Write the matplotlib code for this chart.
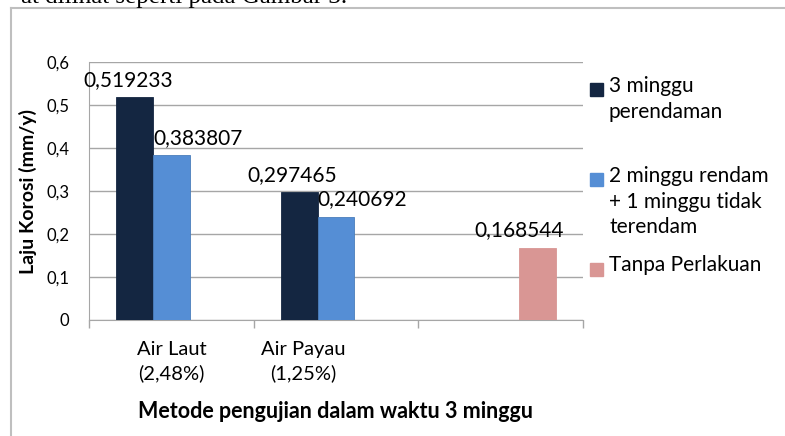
import matplotlib
matplotlib.use('Agg')
import matplotlib.pyplot as plt
from matplotlib.lines import Line2D
from matplotlib.patches import Rectangle
import numpy as np

plt.rcParams.update({'font.family': 'Lato', 'font.size': 15})

categories = ['Air Laut\n(2,48%)', 'Air Payau\n(1,25%)', '']
series_names = ['3 minggu\nperendaman',
                '2 minggu rendam\n+ 1 minggu tidak\nterendam',
                'Tanpa Perlakuan']
values = [
    [0.519233, 0.297465, np.nan],
    [0.383807, 0.240692, np.nan],
    [np.nan, np.nan, 0.168544],
]
yticks = [0, 0.1, 0.2, 0.3, 0.4, 0.5, 0.6]
ytick_labels = ['0', '0,1', '0,2', '0,3', '0,4', '0,5', '0,6']

colors = ['#142641', '#558ED5', '#D99694']
edges = ['#142641', '#4A7EBB', '#D99694']
label_ha = ['center', 'left', 'center']
label_dx = [-5, 0, -13]
grid_c = '#A6A6A6'

fig = plt.figure(figsize=(7.85, 4.36), dpi=100)
ax = fig.add_axes([89 / 785, 116 / 436, 494 / 785, 258 / 436])

x = np.arange(len(categories))
w = 0.222
for i, (vals, c) in enumerate(zip(values, colors)):
    pos = x + (i - 1) * w
    bars = ax.bar(pos, vals, width=w, color=c, edgecolor=edges[i], linewidth=0.6, zorder=3)
    for b, v in zip(bars, vals):
        if np.isnan(v):
            continue
        bx = b.get_x() if label_ha[i] == 'left' else b.get_x() + b.get_width() / 2
        ax.annotate(f'{v:.6f}'.replace('.', ','), (bx, v), xytext=(label_dx[i], 5),
                    textcoords='offset points', ha=label_ha[i], va='bottom', fontsize=15)

ax.set_xlim(-0.5, 2.5)
ax.set_ylim(0, 0.6)
ax.set_yticks(yticks, ytick_labels)
ax.yaxis.grid(True, color=grid_c, linewidth=1, zorder=0)
ax.tick_params(axis='y', length=0, pad=14, labelsize=12)
ax.set_xticks([-0.5, 0.5, 1.5, 2.5], ['', '', '', ''])
ax.tick_params(axis='x', length=6, color=grid_c, width=1)
# category labels sit where the original put them
label_x = [0, 0.8]
for lx, lab in zip(label_x, categories):
    ax.text(lx, -0.08, lab, ha='center', va='top', fontsize=14.5, linespacing=1.45,
            transform=ax.get_xaxis_transform())
for s in ['top', 'right']:
    ax.spines[s].set_visible(False)
for s in ['left', 'bottom']:
    ax.spines[s].set_color(grid_c)
ax.set_xlabel('Metode pengujian dalam waktu 3 minggu', fontweight='bold', fontsize=15.5)
ax.xaxis.set_label_coords(0.5, -0.315)
ax.set_ylabel('Laju Korosi (mm/y)', fontweight='bold', fontsize=14)
ax.yaxis.set_label_coords(-0.105, 0.5)

# legend drawn by hand so the squares sit on the first line
leg_y = [90, 180, 269]
for yy, name, c in zip(leg_y, series_names, colors):
    fig.patches.append(Rectangle((590 / 785, 1 - (yy + 6.5) / 436), 13 / 785, 13 / 436,
                                 transform=fig.transFigure, color=c))
    fig.text(609 / 785, 1 - (yy - 14) / 436, name, ha='left', va='top', fontsize=15, linespacing=1.35)

# outer frame and clipped caption text from the page
fig.add_artist(Line2D([10.5 / 785, 10.5 / 785], [0, 1 - 8 / 436], color='#BFBFBF', lw=1.5))
fig.add_artist(Line2D([10.5 / 785, 1], [1 - 8 / 436, 1 - 8 / 436], color='#BFBFBF', lw=1.5))
fig.text(347 / 785, 1 - 3 / 436, 'at dilihat seperti pada Gambar 3.', ha='right', va='baseline',
         family='Liberation Serif', fontsize=18)

fig.savefig('out.png', dpi=100)
